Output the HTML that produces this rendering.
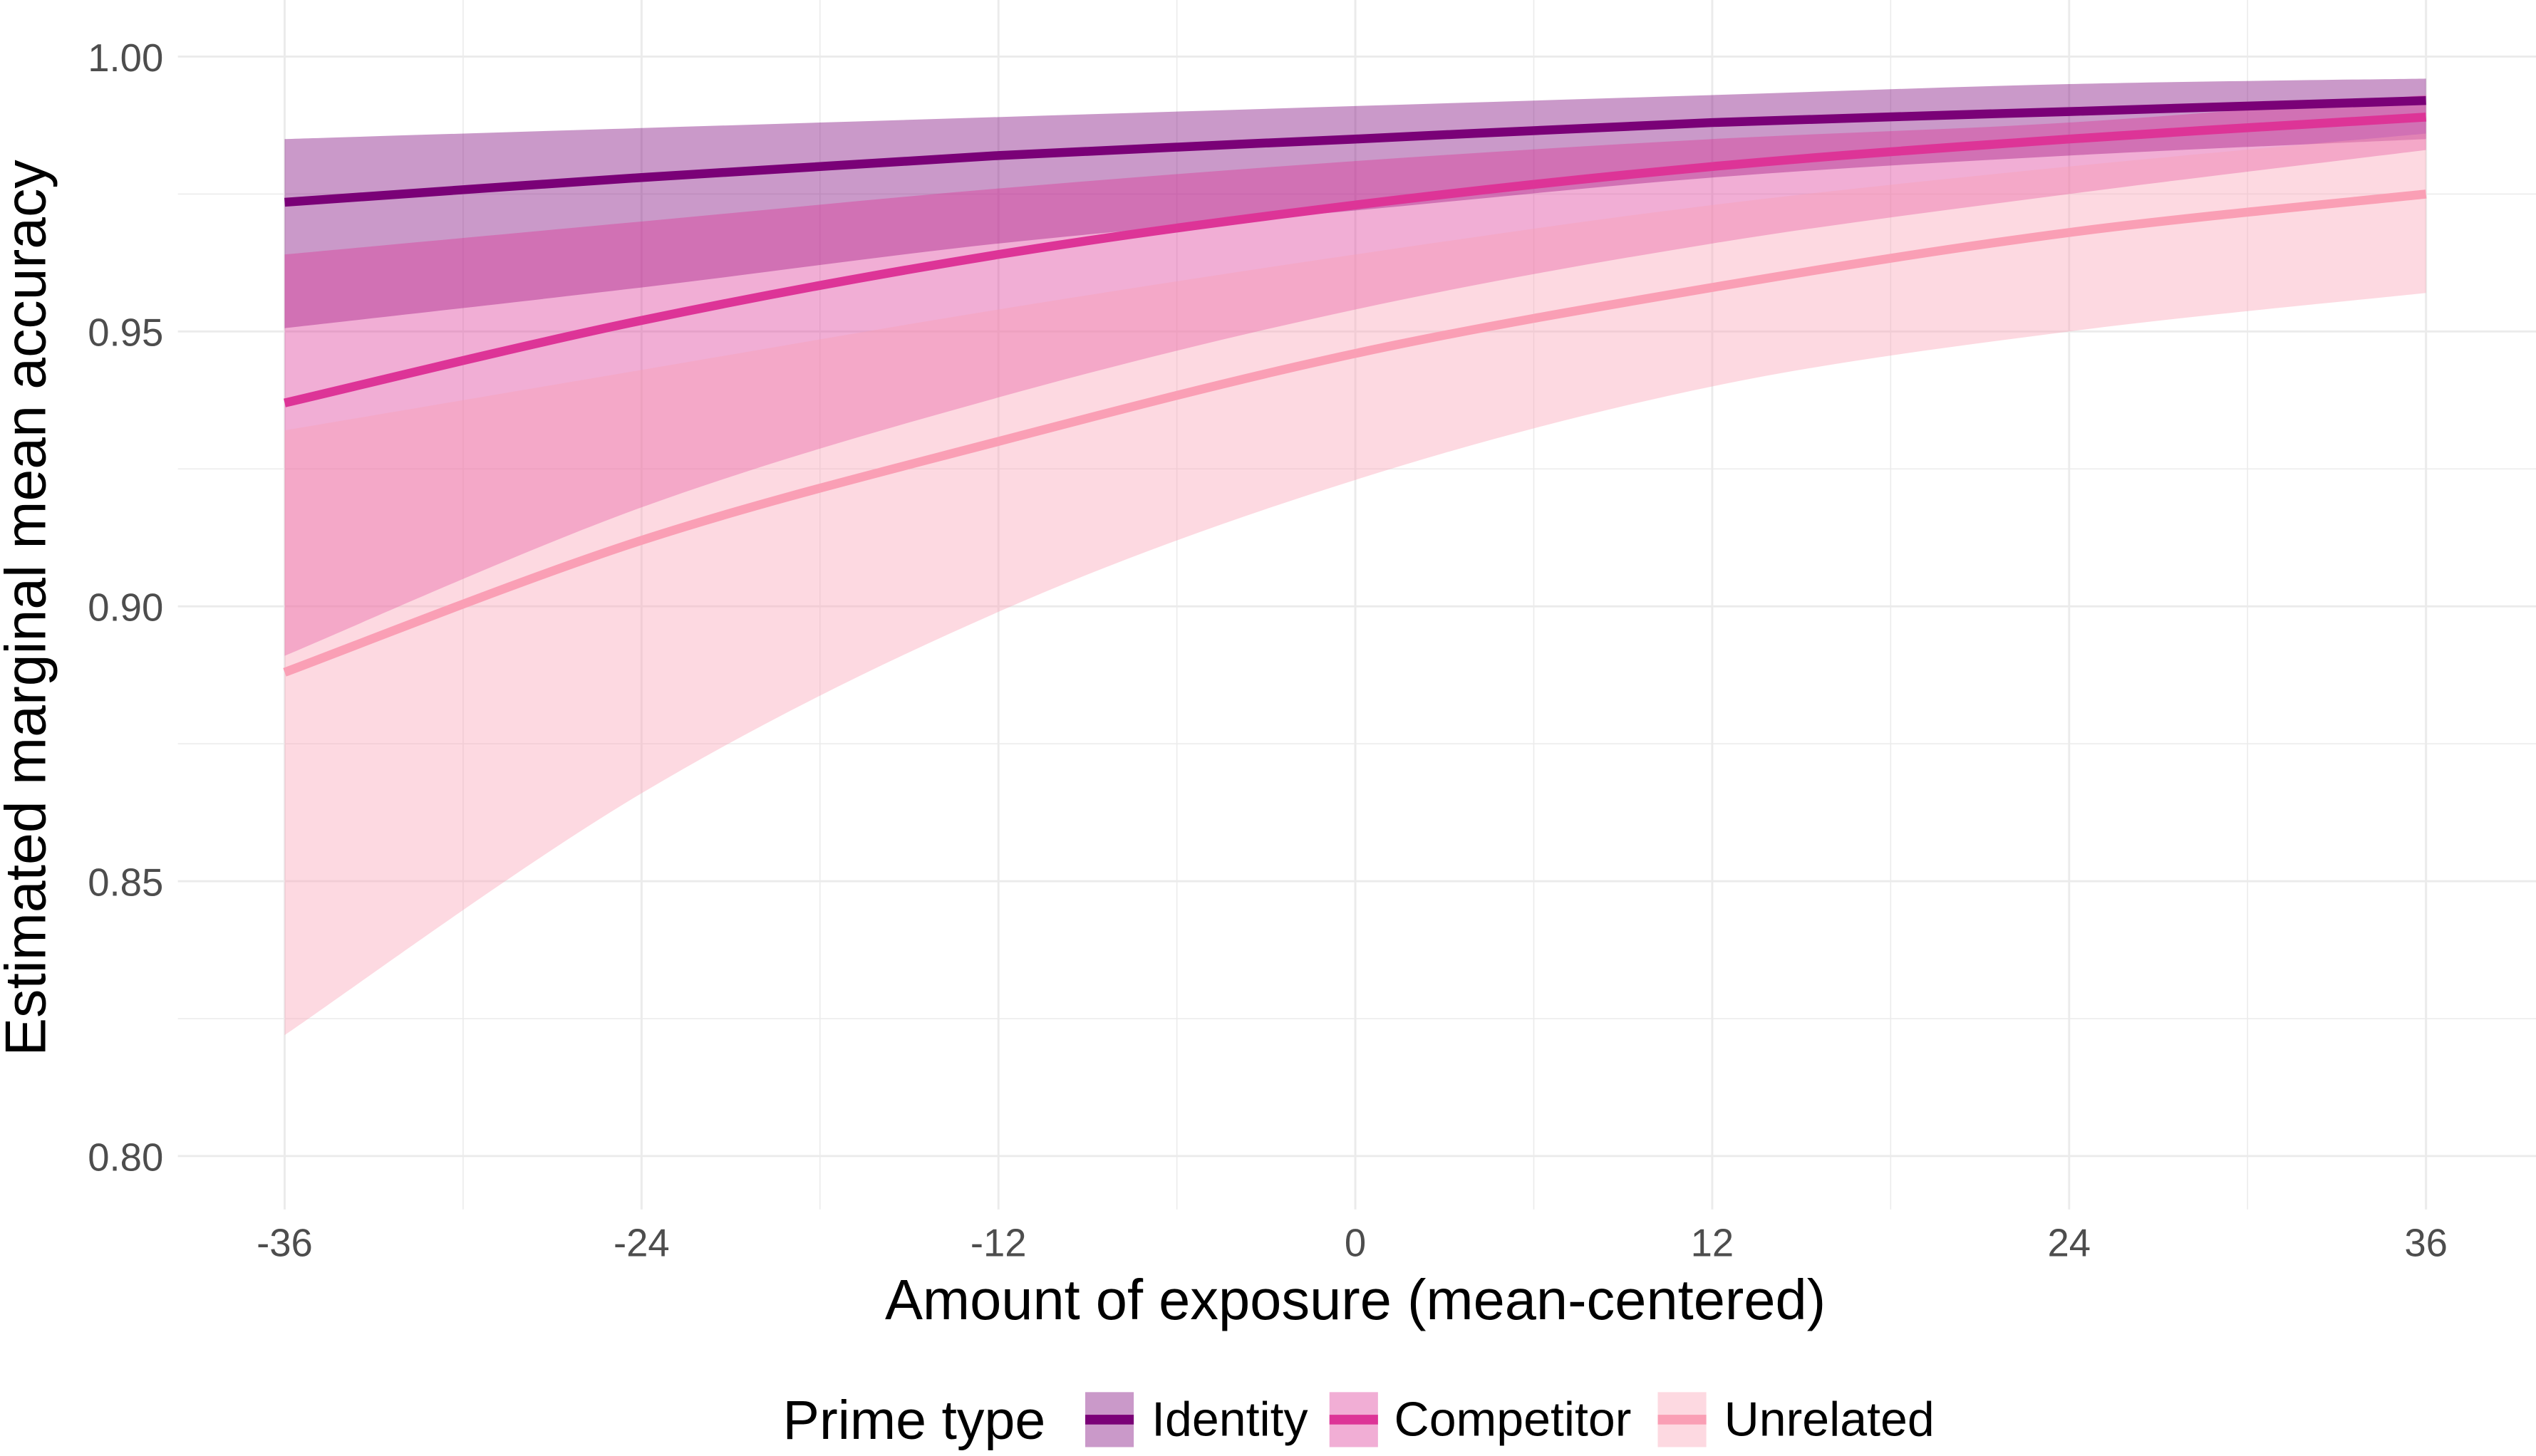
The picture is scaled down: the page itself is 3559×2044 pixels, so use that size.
<!DOCTYPE html>
<html><head><meta charset="utf-8"><style>
html,body{margin:0;padding:0;background:#fff;}
svg{display:block;font-family:"Liberation Sans",sans-serif;}
</style></head><body>
<svg id="chart" width="3559" height="2044" viewBox="0 0 1568 900.5" preserveAspectRatio="none" xmlns="http://www.w3.org/2000/svg">
<g id="grid"></g>
<g id="bands"></g>
<g id="lines"></g>
<g id="axes"></g>
<text x="838" y="816" font-size="35" text-anchor="middle" fill="#000">Amount of exposure (mean-centered)</text>
<text transform="translate(28,376) rotate(-90)" font-size="35.5" text-anchor="middle" fill="#000">Estimated marginal mean accuracy</text>
<g>
<text x="484" y="890" font-size="34" fill="#000">Prime type</text>
<g>
<rect x="671" y="861" width="30" height="34" fill="#7a0177" fill-opacity="0.4"/><rect x="671" y="875" width="30" height="6" fill="#7a0177"/>
<text x="712" y="888" font-size="30" fill="#000">Identity</text></g>
<g>
<rect x="822" y="861" width="30" height="34" fill="#dd3497" fill-opacity="0.4"/><rect x="822" y="875" width="30" height="6" fill="#dd3497"/>
<text x="862" y="888" font-size="30" fill="#000">Competitor</text></g>
<g>
<rect x="1025" y="861" width="30" height="34" fill="#fa9fb5" fill-opacity="0.4"/><rect x="1025" y="875" width="30" height="6" fill="#fa9fb5"/>
<text x="1066" y="888" font-size="30" fill="#000">Unrelated</text></g>
</g>
</svg>
<script>
const xs = [-36,-24,-12,0,12,24,36];
const identityFit = [0.9735,0.978,0.982,0.985,0.988,0.990,0.992];
const identityUpper = [0.985,0.987,0.989,0.991,0.993,0.995,0.996];
const identityLower = [0.9506,0.958,0.966,0.972,0.978,0.982,0.985];
const competitorFit = [0.937,0.952,0.964,0.973,0.980,0.985,0.989];
const competitorUpper = [0.964,0.970,0.976,0.981,0.985,0.988,0.993];
const competitorLower = [0.891,0.918,0.938,0.954,0.966,0.975,0.983];
const unrelatedFit = [0.888,0.912,0.930,0.946,0.958,0.968,0.975];
const unrelatedUpper = [0.932,0.943,0.954,0.964,0.973,0.980,0.986];
const unrelatedLower = [0.822,0.866,0.899,0.923,0.940,0.950,0.957];
const xTicks = [-36,-24,-12,0,12,24,36];
const yTicks = [0.80,0.85,0.90,0.95,1.00];
const yTickLabels = ["0.80","0.85","0.90","0.95","1.00"];

const NS="http://www.w3.org/2000/svg";
const X = v => 176 + (v+36)*(1324/72);
const Y = v => 35 + (1.0-v)*3400;
function mk(tag, attrs, parent){const e=document.createElementNS(NS,tag);for(const k in attrs)e.setAttribute(k,attrs[k]);parent.appendChild(e);return e;}
function spline(pts){
  let d=`M${pts[0][0]},${pts[0][1]}`;
  for(let i=0;i<pts.length-1;i++){
    const p0=pts[Math.max(0,i-1)],p1=pts[i],p2=pts[i+1],p3=pts[Math.min(pts.length-1,i+2)];
    const c1=[p1[0]+(p2[0]-p0[0])/6,p1[1]+(p2[1]-p0[1])/6];
    const c2=[p2[0]-(p3[0]-p1[0])/6,p2[1]-(p3[1]-p1[1])/6];
    d+=` C${c1[0]},${c1[1]} ${c2[0]},${c2[1]} ${p2[0]},${p2[1]}`;
  }
  return d;
}
const grid=document.getElementById('grid');
for(let v=-36;v<=36;v+=6){
  const gl=mk('line',{x1:X(v),x2:X(v),y1:0,y2:748,stroke:'#ebebeb','stroke-width':v%12===0?1.3:0.7},grid);
  
  
}
for(let v=0.80;v<=1.0001;v+=0.025){
  const major=Math.abs(v*20-Math.round(v*20))<0.01;
  const gl=mk('line',{x1:110,x2:1568,y1:Y(v),y2:Y(v),stroke:'#ebebeb','stroke-width':major?1.3:0.7},grid);
  
  
}
const axes=document.getElementById('axes');
xTicks.forEach(v=>{
  const t=mk('text',{x:X(v),y:777,'font-size':24,'text-anchor':'middle',fill:'#4d4d4d'},axes);
  t.textContent=String(v);
  
  
});
yTicks.forEach((v,i)=>{
  const t=mk('text',{x:101,y:Y(v)+9,'font-size':24,'text-anchor':'end',fill:'#4d4d4d'},axes);
  t.textContent=yTickLabels[i];
  
  
});
const series=[
  {name:'identity',fit:identityFit,up:identityUpper,lo:identityLower,col:'#7a0177'},
  {name:'competitor',fit:competitorFit,up:competitorUpper,lo:competitorLower,col:'#dd3497'},
  {name:'unrelated',fit:unrelatedFit,up:unrelatedUpper,lo:unrelatedLower,col:'#fa9fb5'}
];
const bands=document.getElementById('bands'), lines=document.getElementById('lines');
series.forEach(s=>{
  const up=xs.map((x,i)=>[X(x),Y(s.up[i])]);
  const lo=xs.map((x,i)=>[X(x),Y(s.lo[i])]).reverse();
  const d=spline(up)+' L'+spline(lo).slice(1)+' Z';
  const b=mk('path',{d:d,fill:s.col,'fill-opacity':0.4},bands);
  
  
});
series.forEach(s=>{
  const pts=xs.map((x,i)=>[X(x),Y(s.fit[i])]);
  const l=mk('path',{d:spline(pts),fill:'none',stroke:s.col,'stroke-width':5.5},lines);
  
  
});
</script>
</body></html>
